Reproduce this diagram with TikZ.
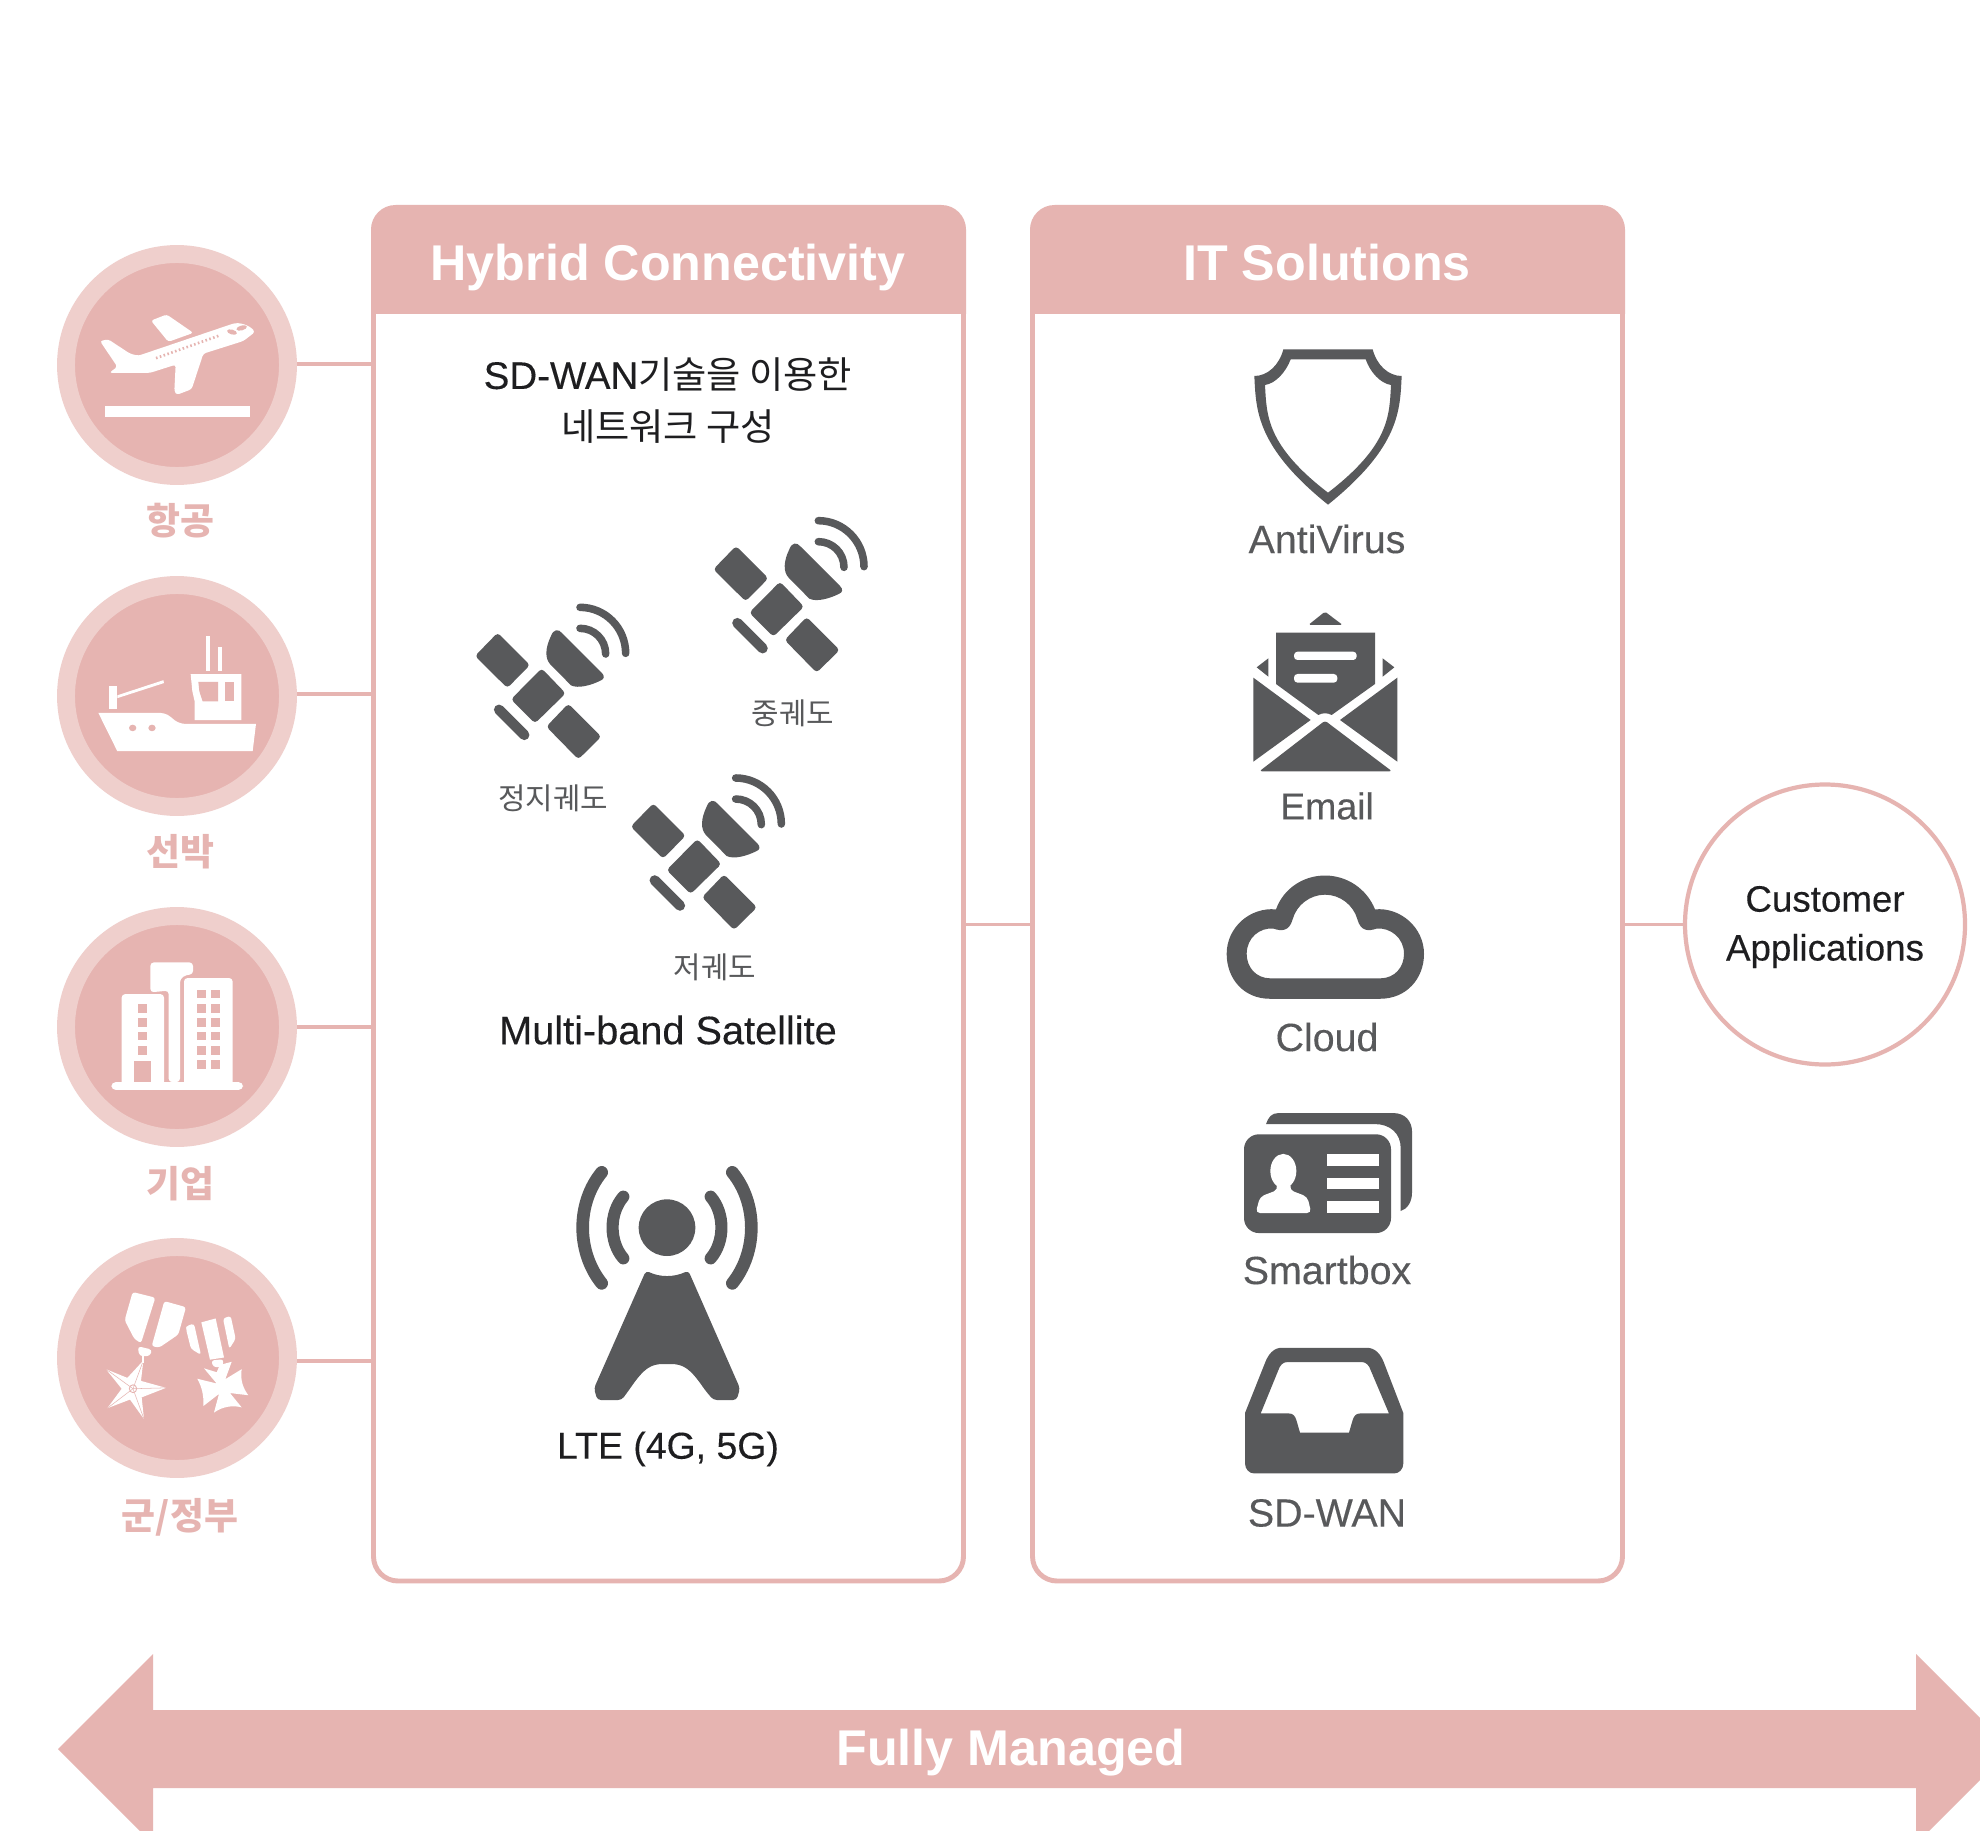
\documentclass[tikz,border=0pt]{standalone}
\usepackage{fontspec}
\setmainfont{Liberation Sans}
\newfontfamily\med[FakeBold=0.25]{Liberation Sans}
\newfontfamily\kr{Noto Sans CJK KR}
\definecolor{pinkmain}{HTML}{E6B4B1}
\definecolor{pinklight}{HTML}{EFCFCC}
\definecolor{icondark}{HTML}{58595B}
\definecolor{inkdark}{HTML}{1E1E20}
\newcommand{\fs}[1]{\fontsize{#1pt}{#1pt}\selectfont}
\tikzset{
  x=0.02cm,y=-0.02cm,
  iconfill/.style={fill=icondark,draw=none},
  whitefill/.style={fill=white,draw=none},
  pinkfill/.style={fill=pinkmain,draw=none},
  link/.style={draw=pinkmain,line width=1.9pt},
  sector/.style={circle,fill=pinkmain,draw=pinklight,line width=10.2pt,minimum size=222*0.02cm,inner sep=0pt,outer sep=5.1pt},
  sectorlabel/.style={text=pinkmain,font=\kr\bfseries\fs{21},inner sep=0pt},
  panelbox/.style={rectangle,rounded corners=14pt,draw=pinkmain,line width=2.8pt,fill=white,inner sep=0pt},
  headtext/.style={text=white,font=\bfseries\fs{28.6},inner sep=0pt},
  bodytext/.style={text=inkdark,font=\med\fs{22.6},inner sep=0pt},
  orbit/.style={text=icondark,font=\kr\fs{17},inner sep=0pt},
  itemtext/.style={text=icondark,font=\med\fs{22.4},inner sep=0pt},
  sat/.pic={
    \fill[iconfill,rounded corners=2pt] (888,168)--(985,265)--(917,334)--(820,238)--cycle;
    \fill[iconfill,rounded corners=2pt] (1020,275)--(1092,350)--(1000,440)--(928,368)--cycle;
    \fill[iconfill,rounded corners=2pt] (1100,381)--(1199,480)--(1130,548)--(1034,450)--cycle;
    \draw[icondark,line width=5.8pt,line cap=round] (892,399)--(968,475);
    \fill[iconfill] (1048,178) .. controls (1055,158) and (1070,155) .. (1082,170) -- (1200,288)
      .. controls (1210,298) and (1208,308) .. (1196,312)
      .. controls (1170,325) and (1130,337) .. (1108,326) -- (1045,262)
      .. controls (1030,245) and (1030,215) .. (1048,178) -- cycle;
    \draw[icondark,line width=4.3pt,line cap=round] (1135,92) .. controls (1211,92) and (1272,154) .. (1272,230);
    \draw[icondark,line width=4.3pt,line cap=round] (1135,155) .. controls (1177,155) and (1212,188) .. (1212,232);
  }
}
\begin{document}
\begin{tikzpicture}
\useasboundingbox (0,0) rectangle (1980,1831);
\fill[white] (0,0) rectangle (1980,1831);

% bottom arrow
\begin{scope}
\clip (0,0) rectangle (1980,1831);
\fill[pinkmain] (58,1749)--(153,1654)--(153,1710)--(1916,1710)--(1916,1654)--(2011,1749)--(1916,1844)--(1916,1788)--(153,1788)--(153,1844)--cycle;
\end{scope}
\node[headtext] (managed) at (1011,1753) {Fully Managed};

% panels
\node[panelbox,minimum width=590*0.02cm,minimum height=1373*0.02cm] (hybrid) at (668.5,894.5) {};
\node[panelbox,minimum width=590*0.02cm,minimum height=1373*0.02cm] (its) at (1327.5,894.5) {};
\fill[pinkmain] (371,314) [rounded corners=14pt] -- (371,205) -- (966,205) [sharp corners] -- (966,314) -- cycle;
\fill[pinkmain] (1030,314) [rounded corners=14pt] -- (1030,205) -- (1625,205) [sharp corners] -- (1625,314) -- cycle;
\node[headtext] (hybridhead) at (668,268) {Hybrid Connectivity};
\node[headtext] (itshead) at (1327,263) {IT Solutions};

% sector circles
\node[sector] (air) at (177,365) {};
\node[sector] (sea) at (177,696) {};
\node[sector] (corp) at (177,1027) {};
\node[sector] (gov) at (177,1358) {};
\coordinate (airport) at (297,364);
\coordinate (seaport) at (297,694);
\coordinate (corpport) at (297,1027);
\coordinate (govport) at (297,1361);
\draw[link] (airport) -- (airport -| hybrid.west);
\draw[link] (seaport) -- (seaport -| hybrid.west);
\draw[link] (corpport) -- (corpport -| hybrid.west);
\draw[link] (govport) -- (govport -| hybrid.west);
\node[sectorlabel] (airlabel) at (180,521) {항공};
\node[sectorlabel] (sealabel) at (180,852) {선박};
\node[sectorlabel] (corplabel) at (180,1184) {기업};
\node[sectorlabel] (govlabel) at (180,1517) {군/정부};

% customer
\node[circle,draw=pinkmain,line width=2.4pt,fill=white,minimum size=280*0.02cm,inner sep=0pt,outer sep=1.2pt] (customer) at (1825,924.5) {};
\node[text=inkdark,font=\med\fs{20.9},inner sep=0pt] (customertext1) at (1825,899) {Customer};
\node[text=inkdark,font=\med\fs{20.9},inner sep=0pt] (customertext2) at (1825,951) {Applications};
\draw[link] (hybrid.east |- customer) -- (its.west |- customer);
\draw[link] (its.east |- customer) -- (customer.west);

% airplane and ship
\begin{scope}[shift={(40,230)},xscale=0.33333,yscale=0.40816]
\fill[whitefill,rounded corners=1.5pt] (180,272)--(205,268)--(270,303)--(295,308)--(570,232)
  .. controls (600,224) and (630,235) .. (645,250) -- (610,272)--(490,303)--(455,390)--(410,404)--(403,395)--(407,330)--(330,350)--(208,350)--(232,335)--cycle;
\fill[whitefill,rounded corners=1.5pt] (333,222)--(380,207)--(460,252)--(385,274)--cycle;
\draw[pinkmain,line width=1.5pt,dash pattern=on 0.9pt off 1.4pt] (348,314)--(540,258);
\fill[pinkfill,rotate around={-12:(576,250)}] (576,250) ellipse (15 and 6);
\fill[pinkfill,rotate around={12:(605,240)}] (605,240) ellipse (16 and 6);
\fill[whitefill] (195,430) rectangle (631,457);
% ship
\fill[whitefill] (175,1183)--(360,1183) .. controls (400,1185) and (395,1210) .. (440,1210) --(648,1210)--(638,1277)--(232,1277)--cycle;
\fill[pinkfill] (278,1220) ellipse (11 and 8);
\fill[pinkfill] (336,1220) ellipse (11 and 8);
\fill[whitefill] (208,1116) rectangle (232,1173);
\fill[whitefill] (232,1140)--(370,1103)--(372,1110)--(232,1147)--cycle;
\fill[whitefill] (452,1088)--(604,1088)--(604,1201)--(464,1201)--(464,1155)--(457,1130)--cycle;
\fill[pinkfill] (475,1107)--(534,1107)--(534,1155)--(488,1155)--(478,1130)--cycle;
\fill[pinkfill] (556,1107) rectangle (581,1155);
\fill[whitefill] (499,994) rectangle (511,1080);
\fill[whitefill] (535,1022) rectangle (547,1080);
\end{scope}

% buildings and medals
\begin{scope}[shift={(40,890)},xscale=0.33333,yscale=0.43365]
\fill[whitefill,rounded corners=2pt] (331,236)--(331,167)--(459,167)--(459,195)--(440,195)--(420,205)--(420,443)--(386,443)--(386,232)--cycle;
\fill[whitefill,rounded corners=2pt] (245,450)--(245,240)--(372,240)--(372,450)--cycle;
\fill[whitefill,rounded corners=2pt] (432,450)--(432,203)--(578,203)--(578,450)--cycle;
\fill[whitefill,rounded corners=2.5pt] (214,443) rectangle (609,461);
\foreach \yy in {263,295,327,360} \fill[pinkfill] (295,\yy) rectangle (322,\yy+20);
\fill[pinkfill] (282,394) rectangle (334,443);
\foreach \yy in {230,263,295,327,360,392} {
  \fill[pinkfill] (471,\yy) rectangle (498,\yy+20);
  \fill[pinkfill] (513,\yy) rectangle (541,\yy+20);
}
% medal one
\fill[whitefill,rounded corners=1.5pt] (278,927)--(346,940)--(303,1045)--(283,1035)--(254,992)--cycle;
\fill[whitefill,rounded corners=1.5pt] (373,948)--(438,962)--(415,1025)--(358,1055)--(335,1052)--cycle;
\fill[whitefill,rounded corners=2pt] (293,1052)--(337,1060)--(330,1075)--(298,1075)--cycle;
\fill[whitefill] (310,1085)--(303,1132)--(378,1148)--(305,1170)--(312,1220)--(270,1175)--(202,1195)--(245,1150)--(198,1105)--(262,1125)--cycle;
\foreach \px/\py in {310/1085,378/1148,312/1220,202/1195,198/1105}
  \draw[pinkmain,line width=0.3pt] (279,1150)--(\px,\py);
\draw[pinkmain,line width=0.5pt] (279,1150) ellipse (11 and 9);
\draw[white,line width=1pt] (310,1075)--(310,1090);
% medal two
\fill[whitefill,rounded corners=1.5pt] (440,1005)--(462,1000)--(483,1072)--(453,1058)--(438,1012)--cycle;
\fill[whitefill] (484,997)--(527,988)--(552,1078)--(510,1083)--cycle;
\fill[whitefill,rounded corners=1.5pt] (549,988)--(572,982)--(587,1035)--(568,1058)--cycle;
\fill[whitefill,rounded corners=1.5pt] (514,1085)--(550,1082)--(548,1100)--(520,1100)--cycle;
\fill[whitefill] (492,1103)--(530,1112)--(540,1095)--(575,1088)--(556,1128)--(605,1105) .. controls (600,1130) and (610,1150) .. (625,1165) --(570,1160)--(605,1193) .. controls (580,1188) and (550,1190) .. (522,1205) --(537,1162)--(490,1190) .. controls (492,1165) and (485,1145) .. (472,1127) --(530,1138)--cycle;
\end{scope}

% hybrid connectivity text
\node[bodytext,font=\med\fs{21.9}] (sdwanline) at (668,375) {SD-WAN{\kr\fs{21.2}기술을 이용한}};
\node[bodytext,font=\kr\fs{21.2}] (netline) at (668,427) {네트워크 구성};

% satellites
\pic[scale=0.33333] at (440,490) {sat};
\pic[scale=0.33333] at (201.67,576.67) {sat};
\pic[scale=0.33333] at (357.33,747.33) {sat};
\node[orbit] (geo) at (553,798) {정지궤도};
\node[orbit] (meo) at (793,713) {중궤도};
\node[orbit] (leo) at (715,967) {저궤도};
\node[bodytext] (multiband) at (668,1030) {Multi-band Satellite};

% LTE tower
\begin{scope}[shift={(540,1140)},scale=0.33333]
\fill[iconfill] (381,263) circle (85);
\fill[iconfill,rounded corners=2pt] (318,392) .. controls (360,412) and (402,412) .. (445,392)
  -- (600,745) -- (590,780) -- (520,780) -- (495,750) .. controls (450,685) and (430,672) .. (381,672)
  .. controls (332,672) and (312,685) .. (267,750) -- (245,780) -- (172,780) -- (162,745) -- cycle;
\draw[icondark,line width=6.9pt,line cap=round] (250,170) .. controls (207,220) and (207,305) .. (250,355);
\draw[icondark,line width=6.9pt,line cap=round] (512,170) .. controls (555,220) and (555,305) .. (512,355);
\draw[icondark,line width=7.2pt,line cap=round] (185,97) .. controls (109,190) and (109,335) .. (185,430);
\draw[icondark,line width=7.2pt,line cap=round] (577,97) .. controls (653,190) and (653,335) .. (577,430);
\end{scope}
\node[bodytext,font=\med\fs{21.3}] (lte) at (668,1449) {LTE (4G, 5G)};

% shield and envelope
\begin{scope}[shift={(1200,330)},scale=0.33333]
\fill[iconfill,even odd rule] (250,58)--(518,58) .. controls (530,105) and (565,138) .. (605,138)
  .. controls (600,240) and (600,350) .. (384,524)
  .. controls (168,350) and (168,240) .. (163,138)
  .. controls (203,138) and (238,105) .. (250,58) -- cycle
  (272,88)--(497,88) .. controls (510,125) and (540,160) .. (573,165)
  .. controls (568,255) and (570,345) .. (384,488)
  .. controls (198,345) and (200,255) .. (195,165)
  .. controls (228,160) and (258,125) .. (272,88) -- cycle;
\fill[iconfill,rounded corners=1pt] (325,885)--(375,845)--(428,885)--cycle;
\fill[iconfill] (228,908)--(525,908)--(525,1062)--(395,1155) .. controls (382,1148) and (368,1148) .. (355,1155)--(228,1062)--cycle;
\fill[whitefill,rounded corners=2pt] (282,965) rectangle (470,990);
\fill[whitefill,rounded corners=2pt] (282,1032) rectangle (412,1058);
\fill[iconfill] (205,985)--(205,1040)--(170,1012)--cycle;
\fill[iconfill] (548,985)--(548,1040)--(583,1012)--cycle;
\fill[iconfill] (160,1043)--(332,1170)--(160,1295)--cycle;
\fill[iconfill] (592,1043)--(420,1170)--(592,1295)--cycle;
\fill[iconfill,rounded corners=1.5pt] (375,1172)--(576,1324)--(178,1324)--cycle;
\end{scope}

% cloud, card, inbox
\begin{scope}[shift={(1200,860)},xscale=0.33333,yscale=0.40816]
\fill[iconfill,even odd rule] (210,340)--(540,340) .. controls (620,340) and (672,290) .. (672,230)
  .. controls (672,165) and (600,115) .. (525,121)
  .. controls (500,70) and (440,38) .. (375,38)
  .. controls (310,38) and (250,70) .. (228,121)
  .. controls (150,115) and (80,165) .. (80,230)
  .. controls (80,290) and (130,340) .. (210,340) -- cycle
  (212,290)--(540,290) .. controls (585,290) and (612,262) .. (612,230)
  .. controls (612,190) and (570,165) .. (530,168)
  .. controls (505,175) and (482,175) .. (472,145)
  .. controls (460,110) and (420,85) .. (375,85)
  .. controls (330,85) and (290,110) .. (278,145)
  .. controls (268,175) and (245,175) .. (220,168)
  .. controls (180,165) and (140,190) .. (140,230)
  .. controls (140,262) and (167,290) .. (212,290) -- cycle;
\fill[iconfill] (198,647) .. controls (205,630) and (215,620) .. (235,620) -- (580,620)
  .. controls (615,620) and (636,640) .. (636,665) -- (636,815)
  .. controls (636,838) and (622,855) .. (602,860) -- (602,705)
  .. controls (602,670) and (570,647) .. (525,647) -- cycle;
\fill[iconfill,rounded corners=8.5pt] (132,672) rectangle (573,914);
\fill[whitefill] (250,762) ellipse (39 and 42);
\fill[whitefill,rounded corners=2.5pt] (228,790)--(234,808)--(180,825)--(167,865)--(334,865)--(322,825)--(268,808)--(274,790)--cycle;
\fill[whitefill] (382,720) rectangle (537,750);
\fill[whitefill] (382,778) rectangle (537,807);
\fill[whitefill] (382,836) rectangle (537,865);
\fill[iconfill,even odd rule] (135,1355)--(195,1232) .. controls (205,1210) and (222,1195) .. (245,1195)
  -- (500,1195) .. controls (525,1195) and (542,1210) .. (552,1232) -- (610,1355) -- (610,1478)
  .. controls (610,1492) and (598,1503) .. (582,1503) -- (163,1503)
  .. controls (147,1503) and (135,1492) .. (135,1478) -- cycle
  (182,1356)--(235,1250) .. controls (240,1238) and (248,1230) .. (262,1230)
  -- (485,1230) .. controls (499,1230) and (507,1238) .. (512,1250) -- (567,1356)
  -- (480,1356) .. controls (468,1356) and (462,1362) .. (458,1372) -- (447,1403) -- (300,1403) -- (289,1372)
  .. controls (285,1362) and (279,1356) .. (267,1356) -- cycle;
\end{scope}
\node[itemtext] (antivirus) at (1327,539) {AntiVirus};
\node[itemtext,font=\med\fs{21.3}] (email) at (1327,806) {Email};
\node[itemtext] (cloud) at (1327,1037) {Cloud};
\node[itemtext] (smartbox) at (1327,1270) {Smartbox};
\node[itemtext] (sdwan) at (1327,1513) {SD-WAN};
\end{tikzpicture}
\end{document}
